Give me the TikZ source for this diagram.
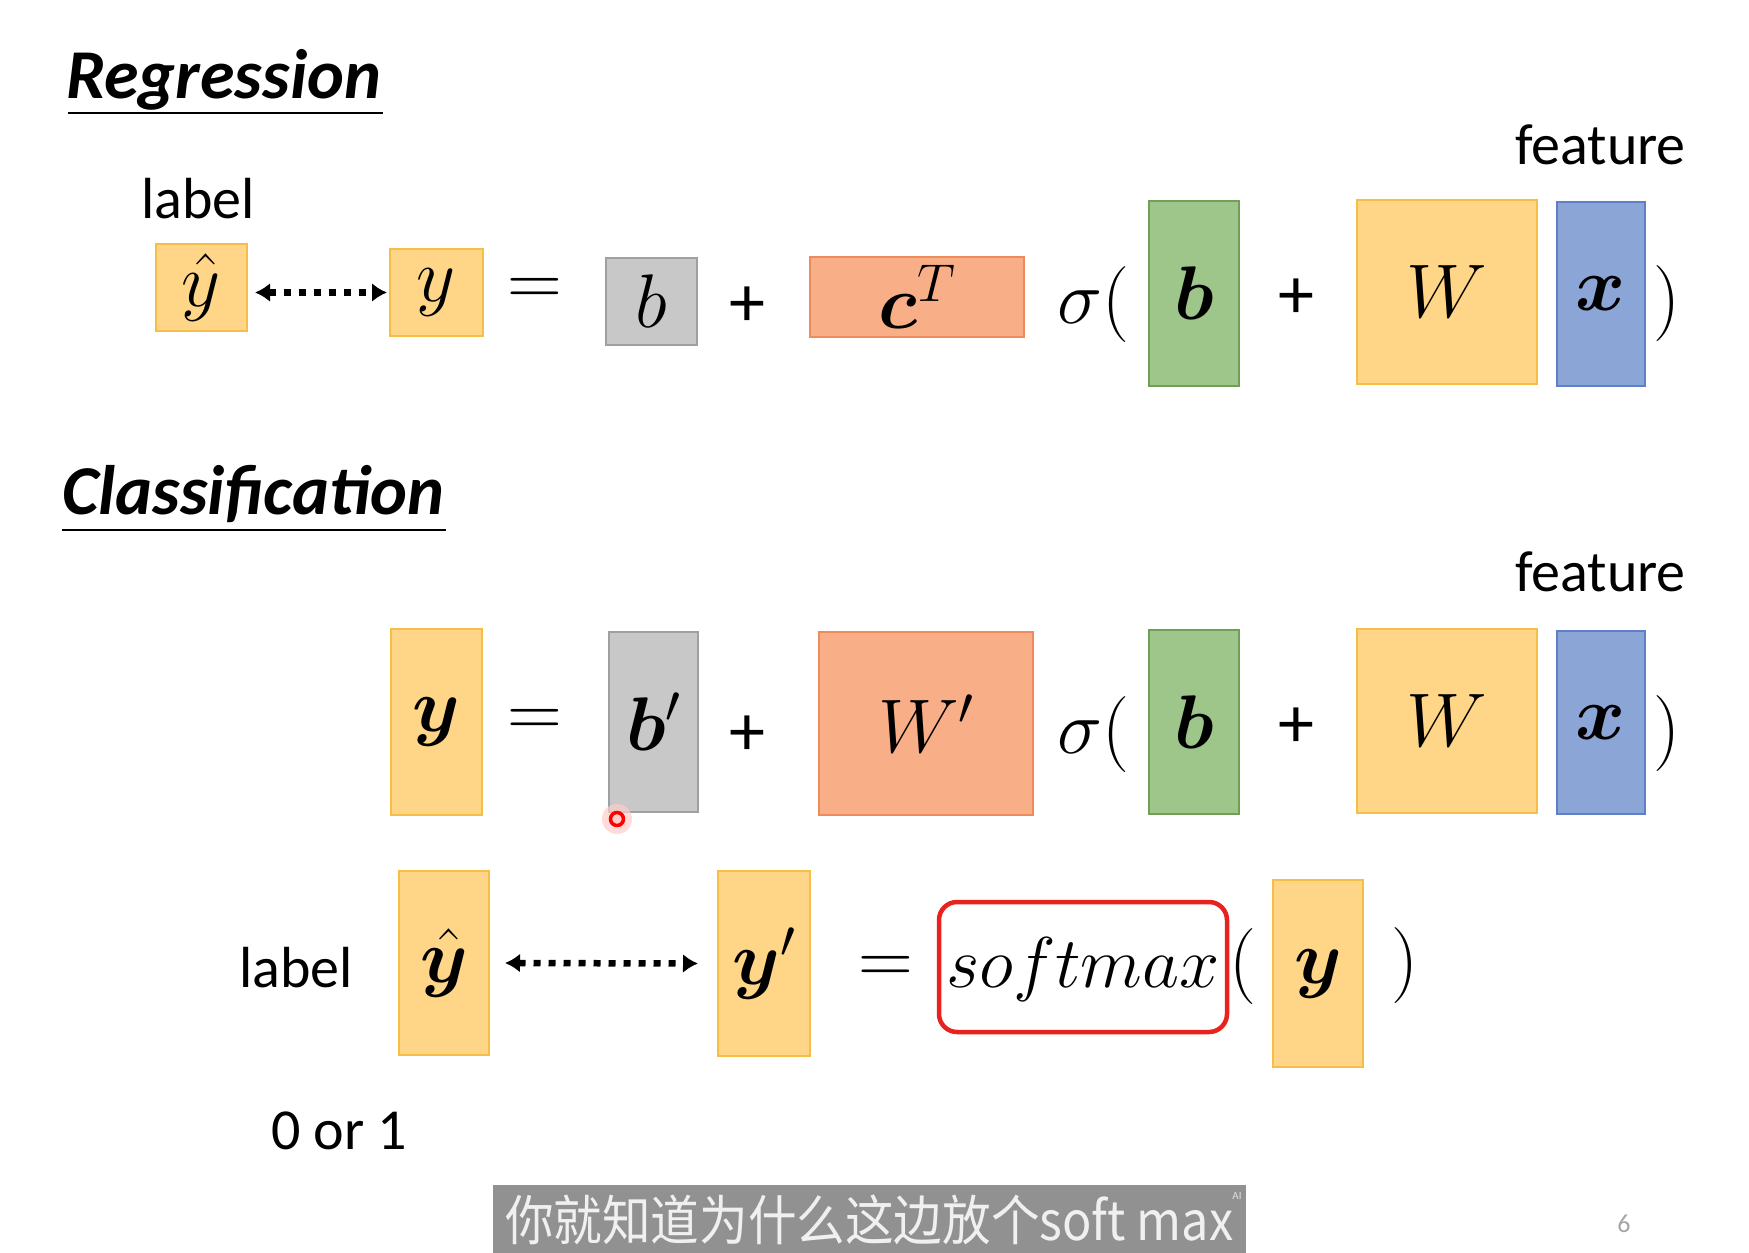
\RequirePackage{fix-cm}
\documentclass[tikz,border=0pt]{standalone}
\usepackage{amsmath,bm}
\usepackage[no-math]{fontspec}
\setmainfont{Carlito}
\newfontfamily\cjk{Noto Sans CJK SC}
\usetikzlibrary{arrows.meta,calc}
\definecolor{yF}{RGB}{255,214,135}
\definecolor{yD}{RGB}{245,190,70}
\definecolor{gF}{RGB}{200,200,200}
\definecolor{gD}{RGB}{160,160,160}
\definecolor{oF}{RGB}{248,174,135}
\definecolor{oD}{RGB}{237,140,90}
\definecolor{grF}{RGB}{158,198,138}
\definecolor{grD}{RGB}{112,160,85}
\definecolor{bF}{RGB}{140,165,215}
\definecolor{bD}{RGB}{95,128,200}
\definecolor{subg}{RGB}{145,145,145}
\definecolor{redline}{RGB}{232,35,30}
\newcommand\mfont{\fontsize{76}{80}\selectfont}
\tikzset{
  box/.style={draw, line width=2pt, inner sep=0pt, font=\mfont},
  ybox/.style={box, fill=yF, draw=yD},
  gbox/.style={box, fill=gF, draw=gD},
  obox/.style={box, fill=oF, draw=oD},
  grbox/.style={box, fill=grF, draw=grD},
  bbox/.style={box, fill=bF, draw=bD},
  op/.style={inner sep=0pt, font=\mfont},
  plus/.style={inner sep=0pt, font=\fontsize{72}{76}\selectfont},
  lbl/.style={inner sep=0pt, anchor=base west, font=\fontsize{58}{62}\selectfont},
  ttl/.style={inner sep=0pt, anchor=base west, font=\fontsize{70}{74}\selectfont\bfseries\itshape},
  dotarrow/.style={line width=6.5pt, dash pattern=on 7pt off 8pt,
    {Latex[length=15pt,width=19pt]}-{Latex[length=15pt,width=19pt]}}
}
\begin{document}
\begin{tikzpicture}[x=1pt,y=-1pt]
\useasboundingbox (0,0) rectangle (1749,1253);
\fill[white] (0,0) rectangle (1749,1253);

% titles
\node[ttl] (reg) at (66,98) {Regression};
\draw[line width=2pt] ($(reg.base west)+(2,15)$) -- ($(reg.base east)+(2,15)$);
\node[ttl] (cls) at (62,514) {Classification};
\draw[line width=2pt] ($(cls.base west)+(0,16)$) -- ($(cls.base east)+(2,16)$);

% labels
\node[lbl] (lab1) at (141,218) {label};
\node[lbl, anchor=base east] (feat1) at (1686,164) {feature};
\node[lbl, anchor=base east] (feat2) at (1686,591) {feature};
\node[lbl] (lab3) at (239,987) {label};
\node[lbl] (zo) at (271,1149) {0 or 1};

% ---- Row 1 (regression)
\node[ybox, minimum width=91pt, minimum height=87pt] (yh1) at (201.5,287.5) {$\hat{y}$};
\node[ybox, minimum width=93pt, minimum height=87pt] (y1) at (436.5,292.5) {$y$};
\node[op] (eq1) at (535,292) {$=$};
\node[gbox, minimum width=91pt, minimum height=87pt] (b1) at (651.5,301.5) {$b$};
\node[plus] (p1) at (747,307) {+};
\node[obox, minimum width=214pt, minimum height=80pt] (c1) at (917,297) {$\bm{c}^T$};
\node[op] (s1) at (1093,304) {$\sigma($};
\node[grbox, minimum width=90pt, minimum height=185pt] (bg1) at (1194,293.5) {$\bm{b}$};
\node[plus] (p1b) at (1296,299) {+};
\node[ybox, minimum width=180pt, minimum height=184pt] (W1) at (1447,292) {$W$};
\node[bbox, minimum width=88pt, minimum height=184pt] (x1) at (1601,294) {$\bm{x}$};
\node[op] (r1) at (1667,303) {$)$};
\draw[dotarrow] ([xshift=7pt]yh1.east |- y1.west) -- ([xshift=-2pt]y1.west);

% ---- Row 2 (classification)
\node[ybox, minimum width=91pt, minimum height=186pt] (y2) at (436.5,722) {$\bm{y}$};
\node[op] (eq2) at (535,723) {$=$};
\node[gbox, minimum width=89pt, minimum height=180pt] (b2) at (653.5,722) {$\bm{b}'$};
\node[plus] (p2) at (747,736) {+};
\node[obox, minimum width=214pt, minimum height=183pt] (W2p) at (926,723.5) {$W'$};
\node[op] (s2) at (1093,734) {$\sigma($};
\node[grbox, minimum width=90pt, minimum height=184pt] (bg2) at (1194,722) {$\bm{b}$};
\node[plus] (p2b) at (1296,728) {+};
\node[ybox, minimum width=180pt, minimum height=184pt] (W2) at (1447,721) {$W$};
\node[bbox, minimum width=88pt, minimum height=183pt] (x2) at (1601,722.5) {$\bm{x}$};
\node[op] (r2) at (1667,733) {$)$};

% laser pointer dot
\node[circle, fill=red!20, opacity=0.7, minimum size=30pt, inner sep=0pt] (glow) at (617,819) {};
\node[circle, draw=red, line width=3.5pt, fill=white!80!red, minimum size=13pt, inner sep=0pt] (dot) at (617,819) {};

% ---- Row 3 (softmax)
\node[ybox, minimum width=90pt, minimum height=184pt] (yh3) at (444,963) {$\hat{\bm{y}}$};
\node[ybox, minimum width=92pt, minimum height=185pt] (y3p) at (764,963.5) {$\bm{y}'$};
\node[op] (eq3) at (886,970) {$=$};
\node[draw=redline, line width=4.5pt, rounded corners=18pt, minimum width=288pt, minimum height=130pt] (smbox) at (1083,967) {};
\node[inner sep=0pt, anchor=base, font=\fontsize{72}{76}\selectfont] (sm) at (1083,987) {$softmax$};
\node[op] (lp3) at (1243,966) {$($};
\node[ybox, minimum width=90pt, minimum height=187pt] (y3) at (1318,973.5) {$\bm{y}$};
\node[op] (rp3) at (1405,965) {$)$};
\draw[dotarrow] ([xshift=15pt]yh3.east) -- ([xshift=-19pt]y3p.west);

% subtitle
\node[fill=subg, minimum width=753pt, minimum height=68pt, anchor=north west, inner sep=0pt] (subbox) at (493,1185) {};
\node[inner sep=0pt, anchor=base west, xscale=0.9, text=white!94!black, font=\cjk\fontsize{54}{60}\selectfont] (subtxt) at (505,1240) {你就知道为什么这边放个soft max};
\node[inner sep=0pt, text=white!75!gray, font=\fontsize{11}{12}\selectfont] (ai) at (1237,1196) {AI};

% page number
\node[inner sep=0pt, text=gray!70, font=\fontsize{26}{28}\selectfont] (pg) at (1624,1224) {6};
\end{tikzpicture}
\end{document}
